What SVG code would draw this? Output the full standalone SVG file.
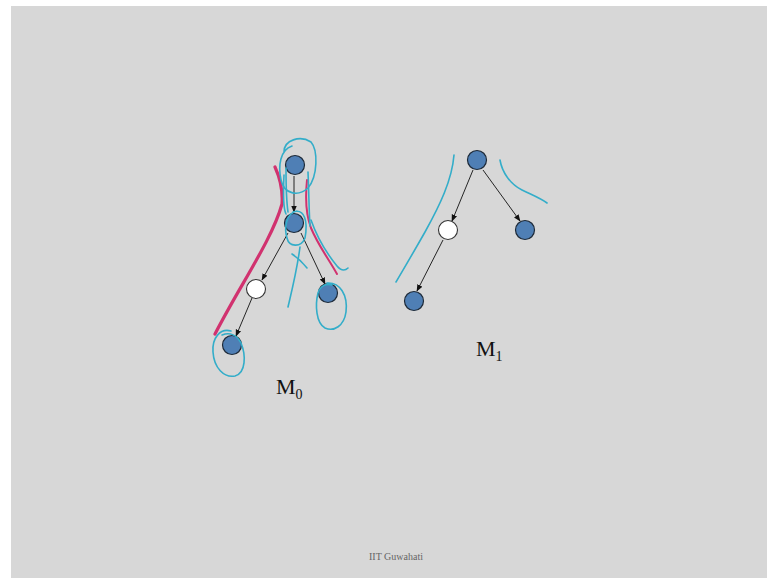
<svg xmlns="http://www.w3.org/2000/svg" width="767" height="578" viewBox="0 0 767 578">
<style>
.n{fill:#4f7fb5;stroke:#1e2a38;stroke-width:1.2}
.w{fill:#ffffff;stroke:#333;stroke-width:1.1}
.e{stroke:#111;stroke-width:0.9;fill:none;marker-end:url(#ah)}
.c{fill:none;stroke:#33adc9;stroke-width:1.6;stroke-linecap:round}
.m{fill:none;stroke:#d1326f;stroke-linecap:round}
.lbl{font-family:"Liberation Serif",serif;font-size:22px;fill:#111}
.sub{font-family:"Liberation Serif",serif;font-size:14px;fill:#111}
.ft{font-family:"Liberation Serif",serif;font-size:10px;fill:#666}
</style>
<defs>
<marker id="ah" viewBox="0 0 10 10" refX="9" refY="5" markerWidth="7" markerHeight="7" orient="auto" markerUnits="userSpaceOnUse">
<path d="M0,1 L10,5 L0,9 z" fill="#111"/>
</marker>
</defs>
<rect x="0" y="0" width="767" height="578" fill="#ffffff"/>
<rect x="11" y="6" width="756" height="572" fill="#d7d7d7"/>

<g id="connectors">
<line class="e" x1="294" y1="176" x2="294" y2="212"/>
<line class="e" x1="288" y1="233" x2="262" y2="280"/>
<line class="e" x1="301" y1="233" x2="325" y2="284"/>
<line class="e" x1="252" y1="298" x2="236" y2="336"/>
<line class="e" x1="473" y1="170" x2="452" y2="221"/>
<line class="e" x1="483" y1="170" x2="520" y2="221"/>
<line class="e" x1="443" y1="240" x2="417" y2="291"/>
</g>

<g id="m0-root"><circle class="n" cx="295" cy="165" r="9.5"/></g>
<g id="m0-mid"><circle class="n" cx="294" cy="223" r="9.5"/></g>
<g id="m0-white"><circle class="w" cx="256" cy="289" r="9.5"/></g>
<g id="m0-right"><circle class="n" cx="328" cy="293" r="9.5"/></g>
<g id="m0-bottom"><circle class="n" cx="232" cy="345" r="9.5"/></g>
<g id="m1-root"><circle class="n" cx="477" cy="160" r="9.5"/></g>
<g id="m1-white"><circle class="w" cx="448" cy="230" r="9.5"/></g>
<g id="m1-right"><circle class="n" cx="525" cy="230" r="9.5"/></g>
<g id="m1-bottom"><circle class="n" cx="414" cy="301" r="9.5"/></g>

<g id="annotations">
<path class="m" stroke-width="3.2" d="M275,167 C280,178 283,190 282,204 C272,240 240,285 215,334"/>
<path class="m" stroke-width="2" d="M307,180 C305,200 306,215 311,228 C318,245 328,258 337,274"/>
<path class="c" d="M284,152 C284,140 300,135 311,142 C318,150 318,176 308,188 C298,197 284,194 281,180 C278,166 280,150 292,146"/>
<path class="c" d="M286,168 C286,190 287,205 288,212"/>
<path class="c" d="M284,175 C283,195 284,210 286,214"/>
<path class="c" d="M308,172 C309,195 309,212 310,226"/>
<path class="c" d="M293,212 C305,208 308,222 305,238 C301,248 289,247 287,238 C284,228 286,213 297,211"/>
<path class="c" d="M300,247 C297,270 292,290 288,307"/>
<path class="c" d="M292,254 C298,258 303,263 307,268"/>
<path class="c" d="M311,220 C318,240 328,255 337,266 C342,272 346,270 348,268"/>
<path class="c" d="M327,283 C340,282 348,295 346,312 C344,326 334,332 325,328 C316,323 315,305 318,293 C320,286 326,283 332,285"/>
<path class="c" d="M231,331 C220,328 212,338 213,352 C214,368 224,378 235,376 C246,373 246,355 241,343 C237,335 230,332 222,335"/>
<path class="c" d="M454,155 C452,180 440,205 425,232 C412,255 403,270 396,282"/>
<path class="c" d="M500,160 C502,172 510,184 522,190 C532,195 540,198 547,203"/>
</g>

<text class="lbl" x="276" y="394">M<tspan class="sub" dy="5">0</tspan></text>
<text class="lbl" x="476" y="356">M<tspan class="sub" dy="5">1</tspan></text>
<text class="ft" x="396" y="560" text-anchor="middle">IIT Guwahati</text>
</svg>
